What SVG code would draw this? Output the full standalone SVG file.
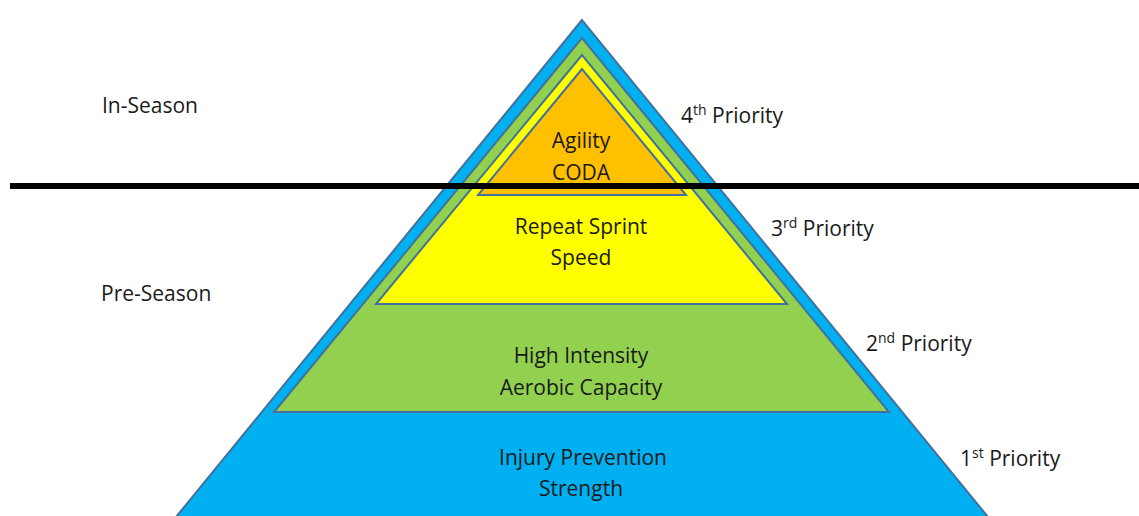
<svg xmlns="http://www.w3.org/2000/svg" width="1139" height="516" viewBox="0 0 1139 516">
<style>
.tier{stroke:#41719C;stroke-width:2;stroke-linejoin:miter}
text{font-family:"Open Sans","Liberation Sans",sans-serif;font-size:21px;fill:#1a1a1a}
.c{text-anchor:middle}
.sup{font-size:14px}
</style>
<rect width="1139" height="516" fill="#fff"/>
<g id="tier1">
<polygon class="tier" fill="#00B0F0" points="582,20 176,517 988,517"/>
<text class="c" x="583" y="465">Injury Prevention</text>
<text class="c" x="581" y="496">Strength</text>
</g>
<g id="tier2">
<polygon class="tier" fill="#92D050" points="582,38 274,412 889,412"/>
<text class="c" x="581" y="363">High Intensity</text>
<text class="c" x="581" y="395">Aerobic Capacity</text>
</g>
<g id="tier3">
<polygon class="tier" fill="#FFFF00" points="582,55 376,304 787,304"/>
<text class="c" x="581" y="234">Repeat Sprint</text>
<text class="c" x="581" y="265">Speed</text>
</g>
<g id="tier4">
<polygon class="tier" fill="#FFC000" points="582,69 478,195 686,195"/>
<text class="c" x="581" y="148">Agility</text>
<text class="c" x="581" y="180">CODA</text>
</g>
<g id="divider">
<line x1="10" y1="186" x2="1139" y2="186" stroke="#000" stroke-width="6"/>
</g>
<g id="season-labels">
<text x="102" y="113">In-Season</text>
<text x="101" y="301">Pre-Season</text>
</g>
<g id="priority-labels">
<text x="681" y="123">4<tspan class="sup" dy="-8">th</tspan><tspan dy="8"> Priority</tspan></text>
<text x="771" y="236">3<tspan class="sup" dy="-8">rd</tspan><tspan dy="8"> Priority</tspan></text>
<text x="866" y="351">2<tspan class="sup" dy="-8">nd</tspan><tspan dy="8"> Priority</tspan></text>
<text x="960" y="466">1<tspan class="sup" dy="-8">st</tspan><tspan dy="8"> Priority</tspan></text>
</g>
</svg>
